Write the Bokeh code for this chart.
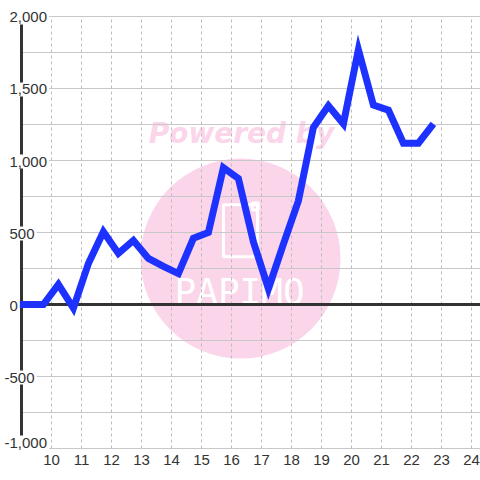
from bokeh.plotting import figure
from bokeh.models import Range1d, ColumnDataSource
from bokeh.embed import file_html
from bokeh.resources import INLINE
from bokeh.core.properties import value

# ---- data ----
x_vals = [8.73, 9.23, 9.73, 10.23, 10.73, 11.23, 11.73, 12.23, 12.73, 13.23,
          13.73, 14.23, 14.73, 15.23, 15.73, 16.23, 16.73, 17.23, 17.73, 18.23,
          18.73, 19.23, 19.73, 20.23, 20.73, 21.23, 21.73, 22.23, 22.73]
y_vals = [0, 0, 0, 140, -25, 285, 505, 355, 445, 320,
          265, 215, 460, 500, 950, 875, 435, 110, 420, 720,
          1230, 1380, 1255, 1770, 1385, 1350, 1120, 1120, 1255]

x_ticks = [10, 11, 12, 13, 14, 15, 16, 17, 18, 19, 20, 21, 22, 23, 24]
x_tick_labels = ["10", "11", "12", "13", "14", "15", "16", "17", "18", "19",
                 "20", "21", "22", "23", "24"]
y_ticks = [-1000, -500, 0, 500, 1000, 1500, 2000]
y_tick_labels = ["-1,000", "-500", "0", "500", "1,000", "1,500", "2,000"]
y_grid = [-1000, -750, -500, -250, 0, 250, 500, 750, 1000, 1250, 1500, 1750, 2000]

# ---- layout constants ----
X_START, X_END = 8.3, 24.3
Y_START, Y_END = -1222.2, 2111.1
AXIS_X = 9
LABEL_X = 8.5333
FONT = "Liberation Sans"
TXT = "#333333"

p = figure(width=480, height=480, x_range=Range1d(X_START, X_END),
           y_range=Range1d(Y_START, Y_END), output_backend="svg",
           toolbar_location=None, x_axis_type=None, y_axis_type=None,
           min_border=0, min_border_left=0, min_border_right=0,
           min_border_top=0, min_border_bottom=0)
p.outline_line_color = None
p.background_fill_color = "white"
p.border_fill_color = "white"

# ---- watermark ----
PINK = "#fbd5ea"
p.scatter(x=[16.3], y=[319], size=200, marker="circle", fill_color=PINK,
          line_color=None)
p.text(x=[16.33], y=[1185], text=["Powered by"], text_font=value("DejaVu Sans"),
       text_font_style="bold italic", text_font_size="28px", text_color=PINK,
       text_align="center", text_baseline="alphabetic")
p.rect(x=[16.3], y=[513], width=34, height=52, width_units="screen",
       height_units="screen", fill_color=None, line_color="white", line_width=3)
p.rect(x=[16.79], y=[680], width=6, height=7, width_units="screen",
       height_units="screen", fill_color=None, line_color="white", line_width=3)
p.text(x=[16.27], y=[90], text=["PAPIMO"], text_font=value("DejaVu Sans Mono"),
       text_font_size="36px", text_color="white", text_align="center",
       text_baseline="alphabetic")

# ---- grid ----
p.segment(x0=[AXIS_X] * len(y_grid), y0=y_grid, x1=[X_END] * len(y_grid), y1=y_grid,
          line_color="#c8c8c8", line_width=1)
p.segment(x0=x_ticks, y0=[y_ticks[0]] * len(x_ticks), x1=x_ticks,
          y1=[y_ticks[-1]] * len(x_ticks), line_color="#bdbdbd", line_width=1,
          line_dash="3 3")

# zero line and left axis
p.segment(x0=[AXIS_X], y0=[0], x1=[X_END], y1=[0], line_color="#333333", line_width=3)
p.segment(x0=[AXIS_X], y0=[y_ticks[0]], x1=[AXIS_X], y1=[y_ticks[-1]],
          line_color="#333333", line_width=3)

# ---- series ----
p.line(x=x_vals, y=y_vals, line_color="#1e32ff", line_width=7, line_join="miter")

# ---- tick labels ----
lowest = min(y_ticks)
ysrc = ColumnDataSource(dict(
    x=[LABEL_X] * len(y_ticks), y=y_ticks, text=y_tick_labels,
    xo=[-5 if t.startswith("-") else 0 for t in y_tick_labels],
    yo=[-6 if v == lowest else 1 for v in y_ticks]))
p.text(x="x", y="y", text="text", x_offset="xo", y_offset="yo", source=ysrc,
       text_font=value(FONT), text_font_size="15px", text_color=TXT,
       text_align="left", text_baseline="middle",
       background_fill_color="white", padding=2)

p.text(x=x_ticks, y=[y_ticks[0]] * len(x_ticks), text=x_tick_labels, y_offset=6,
       text_font=value(FONT), text_font_size="15px", text_color=TXT,
       text_align="center", text_baseline="top")

open("out.html", "w").write(file_html(p, INLINE))
